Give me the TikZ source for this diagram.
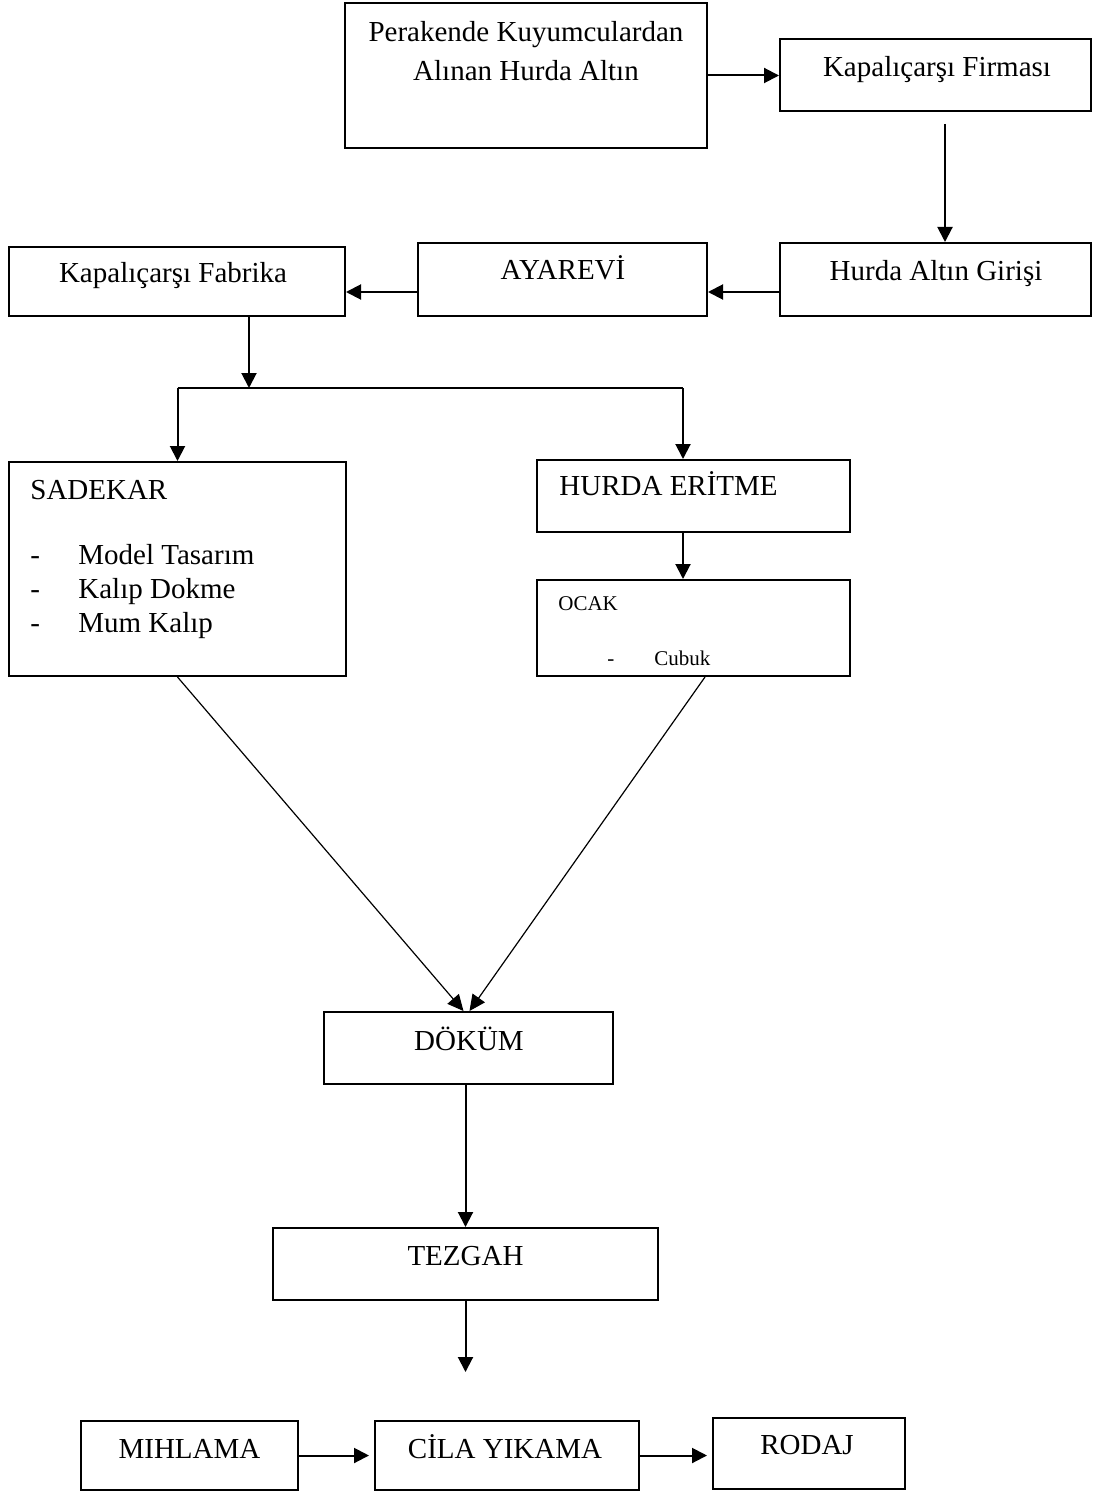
\documentclass[tikz,border=0pt]{standalone}
\usepackage{fontspec}
\setmainfont{Liberation Serif}
\usetikzlibrary{arrows.meta}
\begin{document}
\begin{tikzpicture}[x=0.5pt,y=-0.5pt,
  box/.style={draw, line width=1pt, rectangle, inner sep=0pt},
  lbl/.style={inner sep=0pt, font=\fontsize{14.5}{17}\selectfont, anchor=base},
  lbll/.style={lbl, anchor=base west},
  small/.style={inner sep=0pt, font=\fontsize{10.5}{12}\selectfont, anchor=base west},
  arr/.style={line width=1pt, -{Triangle[length=7.5pt,width=7.5pt]}},
  thinarr/.style={line width=0.6pt, -{Triangle[length=8pt,width=7.5pt]}},
  link/.style={line width=1pt}]
\useasboundingbox (0,0) rectangle (1096,1492);

% boxes
\node[box, minimum width=181pt,   minimum height=72.5pt] (perak)  at (526,75.5)    {};
\node[box, minimum width=155.5pt, minimum height=36pt]   (firma)  at (935.5,75)    {};
\node[box, minimum width=155.5pt, minimum height=36.5pt] (giris)  at (935.5,279.5) {};
\node[box, minimum width=144.5pt, minimum height=36.5pt] (ayar)   at (562.5,279.5) {};
\node[box, minimum width=168pt,   minimum height=34.5pt] (fabr)   at (177,281.5)   {};
\node[box, minimum width=168.5pt, minimum height=107pt]  (sade)   at (177.5,569)   {};
\node[box, minimum width=156.5pt, minimum height=36pt]   (erit)   at (693.5,496)   {};
\node[box, minimum width=156.5pt, minimum height=48pt]   (ocak)   at (693.5,628)   {};
\node[box, minimum width=144.5pt, minimum height=36pt]   (dokum)  at (468.5,1048)  {};
\node[box, minimum width=192.5pt, minimum height=36pt]   (tezgah) at (465.5,1264)  {};
\node[box, minimum width=108.5pt, minimum height=34.5pt] (mihl)   at (189.5,1455.5){};
\node[box, minimum width=132pt,   minimum height=34.5pt] (cila)   at (507,1455.5)  {};
\node[box, minimum width=96pt,    minimum height=35.5pt] (rodaj)  at (809,1453.5)  {};

% texts
\node[lbl] (perak1) at (526,42) {Perakende Kuyumculardan};
\node[lbl] (perak2) at (526,81) {Alınan Hurda Altın};
\node[lbl] (firmat) at (937,77) {Kapalıçarşı Firması};
\node[lbl] (girist) at (936,281) {Hurda Altın Girişi};
\node[lbl] (ayart)  at (563,280) {AYAREVİ};
\node[lbl] (fabrt)  at (173,283) {Kapalıçarşı Fabrika};
\node[lbll] (sadet) at (30,499) {SADEKAR};
\node[lbll] (sd1) at (30,564) {-};
\node[lbll] (sd2) at (30,598) {-};
\node[lbll] (sd3) at (30,632) {-};
\node[lbll] (si1) at (78,564) {Model Tasarım};
\node[lbll] (si2) at (78,598) {Kalıp Dokme};
\node[lbll] (si3) at (78,632) {Mum Kalıp};
\node[lbll] (eritt) at (559,495) {HURDA ERİTME};
\node[small] (ocakt) at (558,610) {OCAK};
\node[small] (od) at (607,665) {-};
\node[small] (oi) at (654,665) {Cubuk};
\node[lbl] (dokumt)  at (469,1050) {DÖKÜM};
\node[lbl] (tezgaht) at (465.5,1265) {TEZGAH};
\node[lbl] (mihlt)   at (189.5,1458) {MIHLAMA};
\node[lbl] (cilat)   at (505,1458) {CİLA YIKAMA};
\node[lbl] (rodajt)  at (807,1454) {RODAJ};

% connectors
\draw[arr] (perak.east) -- (perak.east -| firma.west);
\draw[arr] ([xshift=4.75pt,yshift=-6pt]firma.south) -- ([xshift=4.75pt]giris.north);
\coordinate (row2) at ([yshift=-6.25pt]ayar.west);
\draw[arr] ([yshift=-6.25pt]giris.west) -- ([yshift=-6.25pt]ayar.east);
\draw[arr] (row2) -- (row2 -| fabr.east);

\coordinate (split) at (249,388);
\coordinate (rdrop) at (683,388);
\draw[arr] (split |- fabr.south) -- (split);
\draw[link] (split -| sade.north) -- (rdrop);
\draw[arr] (split -| sade.north) -- (sade.north);
\draw[arr] (rdrop) -- (rdrop |- erit.north);
\draw[arr] (rdrop |- erit.south) -- (rdrop |- ocak.north);

\draw[thinarr] (sade.south) -- ([xshift=-2.5pt]dokum.north);
\draw[thinarr] ([xshift=5.75pt]ocak.south) -- ([xshift=0.5pt]dokum.north);

\draw[arr] (tezgah.north |- dokum.south) -- (tezgah.north);
\coordinate (tend) at (465.5,1372);
\draw[arr] (tezgah.south) -- (tend);

\coordinate (b1) at ([xshift=-2.5pt]cila.west);
\coordinate (b2) at ([xshift=-2.5pt]rodaj.west);
\draw[arr] (mihl.east) -- (mihl.east -| b1);
\draw[arr] (cila.east) -- (cila.east -| b2);
\end{tikzpicture}
\end{document}
